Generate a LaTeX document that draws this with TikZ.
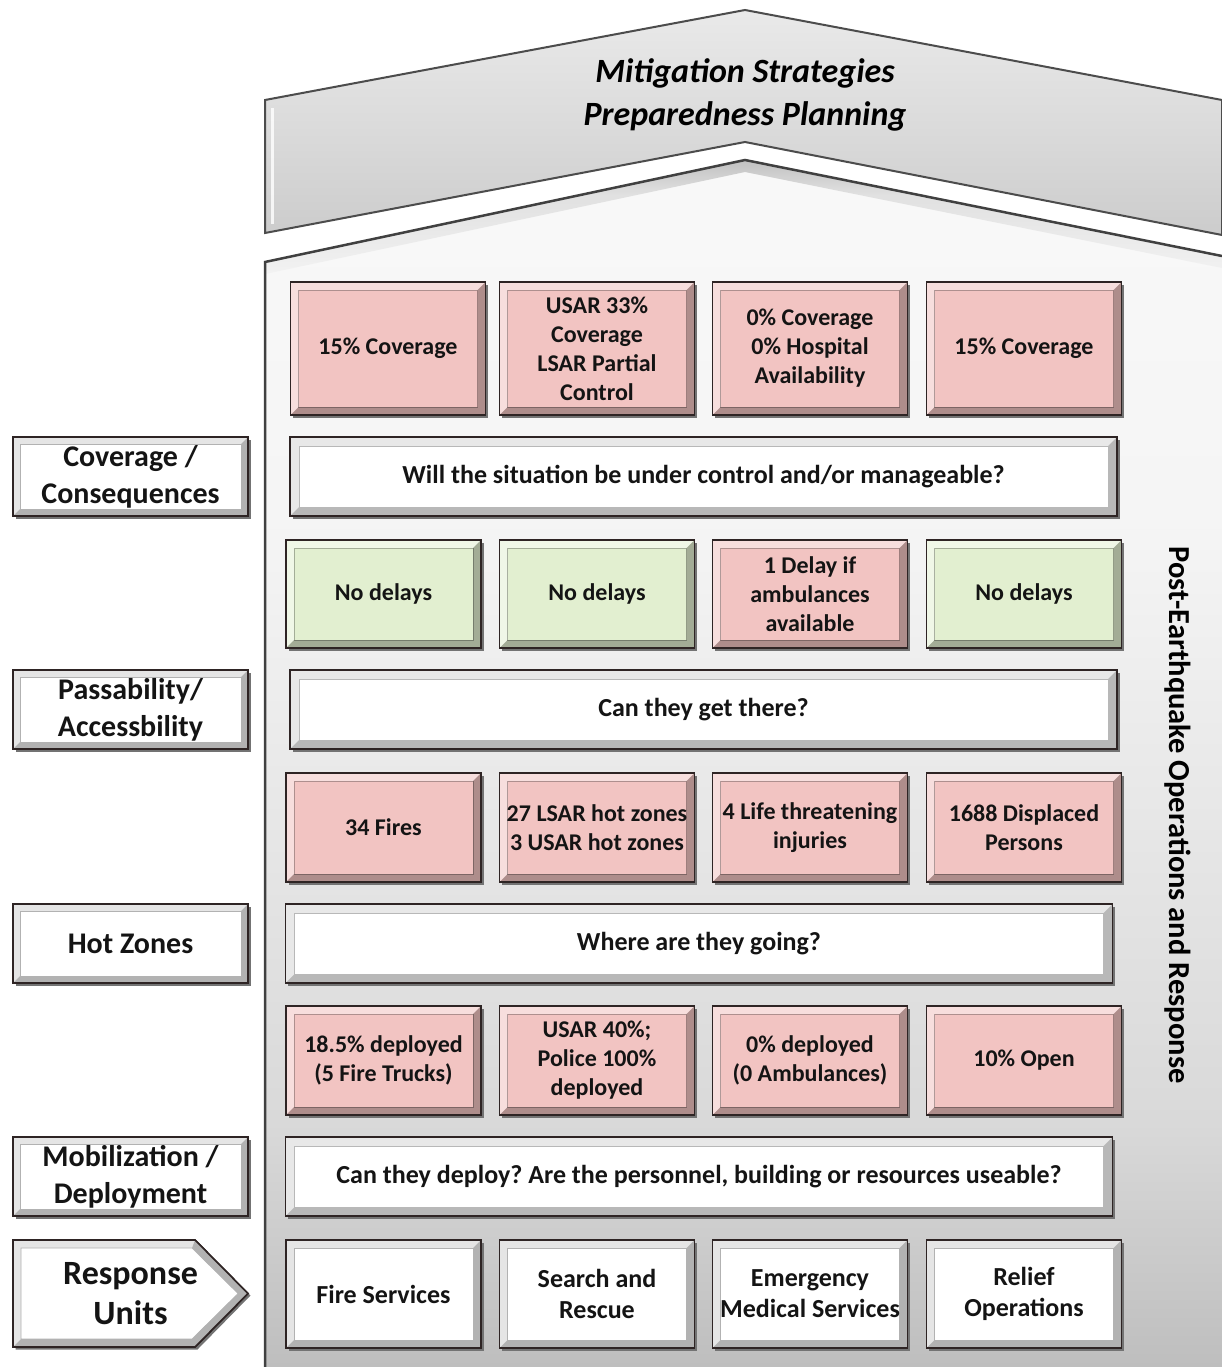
\documentclass[tikz,border=0pt]{standalone}
\usepackage{fontspec}
\setmainfont{Carlito}
\usetikzlibrary{shadows}
\definecolor{pinkf}{HTML}{F2C4C2}
\definecolor{greenf}{HTML}{E2EFD0}
\definecolor{edgec}{HTML}{2E2424}
\pgfdeclareverticalshading{housesh}{100bp}{color(0bp)=(black!45); color(15bp)=(black!36); color(35bp)=(black!15); color(60bp)=(black!4); color(100bp)=(white)}
\pgfdeclareverticalshading{roofsh}{100bp}{color(0bp)=(black!26); color(50bp)=(black!14); color(100bp)=(black!3)}
\pgfdeclareverticalshading{topshadow}{100bp}{color(0bp)=(white); color(60bp)=(black!12); color(100bp)=(black!45)}
\newcommand\mybevel[3]{%
  \path (path picture bounding box.north west) coordinate (pNW)
        (path picture bounding box.south east) coordinate (pSE);
  \fill[#2] (pNW) -- (pNW -| pSE) -- ([shift={(-#1,-#1)}]pNW -| pSE) -- ([shift={(#1,-#1)}]pNW)
     -- ([shift={(#1,#1)}]pNW |- pSE) -- (pNW |- pSE) -- cycle;
  \fill[#3] (pSE) -- (pNW -| pSE) -- ([shift={(-#1,-#1)}]pNW -| pSE) -- ([shift={(-#1,#1)}]pSE)
     -- ([shift={(#1,#1)}]pNW |- pSE) -- (pNW |- pSE) -- cycle;
  \draw[#3, line width=0.6pt] ([shift={(#1,-#1)}]pNW) rectangle ([shift={(-#1,#1)}]pSE);}
\tikzset{
  basebox/.style={rectangle, inner sep=0pt, align=center, text=black!92,
    draw=edgec, line width=1.6pt,
    general shadow={shadow xshift=2.5pt, shadow yshift=-2.5pt, fill=black!55},
    font=\fontsize{24}{29}\selectfont\bfseries},
  pinkbox/.style={basebox, fill=pinkf, minimum width=195pt, minimum height=#1,
    path picture={\mybevel{8pt}{white,opacity=.45}{black,opacity=.28}}},
  greenbox/.style={basebox, fill=greenf, minimum width=195pt, minimum height=108pt,
    path picture={\mybevel{8pt}{white,opacity=.5}{black,opacity=.28}}},
  unitbox/.style={basebox, fill=white, minimum width=195pt, minimum height=108pt,
    font=\fontsize{26}{31}\selectfont\bfseries,
    path picture={\mybevel{8pt}{black!10}{black!30}}},
  qbox/.style={basebox, fill=white, minimum width=827pt, minimum height=79pt,
    font=\fontsize{26}{30}\selectfont\bfseries,
    path picture={\mybevel{9pt}{black!9}{black!28}}},
  lbox/.style={basebox, fill=white, minimum width=235pt, minimum height=79pt,
    font=\fontsize{30}{37}\selectfont\bfseries,
    path picture={\mybevel{7pt}{black!10}{black!30}}},
}
\begin{document}
\frenchspacing
\begin{tikzpicture}[x=1pt,y=-1pt]
\useasboundingbox (0,0) rectangle (1222,1367);
% house body
\shade[shading=housesh] (265,262) -- (745,160) -- (1222,256) -- (1222,1367) -- (265,1367) -- cycle;
\shade[shading=topshadow] (265,262) -- (745,160) -- (1222,256) -- (1222,268) -- (745,172) -- (265,274) -- cycle;
\draw[black!75, line width=2.5pt] (265,1367) -- (265,262) -- (745,160) -- (1222,256);
% roof
\shade[shading=roofsh, draw=black!70, line width=2pt]
  (265,100) -- (745,10) -- (1222,100) -- (1222,235) -- (745,142) -- (265,233) -- cycle;
\draw[white, opacity=.8, line width=3pt] (272,108) -- (272,224);
\node[font=\fontsize{34}{43}\selectfont\bfseries\itshape, align=center] (title) at (745,95)
  {Mitigation Strategies\\Preparedness Planning};
% vertical text
\node[rotate=-90, font=\fontsize{30.5}{32}\selectfont\bfseries] (side) at (1178,815)
  {Post-Earthquake Operations and Response};
% row 1
\node[pinkbox=133pt] (a1) at (388,348.5) {15\% Coverage};
\node[pinkbox=133pt] (a2) at (597,348.5) {USAR 33\%\\Coverage\\LSAR Partial\\Control};
\node[pinkbox=133pt] (a3) at (810,348.5) {0\% Coverage\\0\% Hospital\\Availability};
\node[pinkbox=133pt] (a4) at (1024,348.5) {15\% Coverage};
\node[qbox] (q1) at (703.5,476.5) {Will the situation be under control and/or manageable?};
% row 2
\node[greenbox] (b1) at (383.5,594) {No delays};
\node[greenbox] (b2) at (597,594) {No delays};
\node[pinkbox=108pt] (b3) at (810,594) {1 Delay if\\ambulances\\available};
\node[greenbox] (b4) at (1024,594) {No delays};
\node[qbox] (q2) at (703.5,709.5) {Can they get there?};
% row 3
\node[pinkbox=109pt] (c1) at (383.5,827.5) {34 Fires};
\node[pinkbox=109pt] (c2) at (597,827.5) {27 LSAR hot zones\\3 USAR hot zones};
\node[pinkbox=109pt] (c3) at (810,827.5) {4 Life threatening\\injuries};
\node[pinkbox=109pt] (c4) at (1024,827.5) {1688 Displaced\\Persons};
\node[qbox] (q3) at (699,943.5) {Where are they going?};
% row 4
\node[pinkbox=109pt] (d1) at (383.5,1060.5) {18.5\% deployed\\(5 Fire Trucks)};
\node[pinkbox=109pt] (d2) at (597,1060.5) {USAR 40\%;\\Police 100\%\\deployed};
\node[pinkbox=109pt] (d3) at (810,1060.5) {0\% deployed\\(0 Ambulances)};
\node[pinkbox=109pt] (d4) at (1024,1060.5) {10\% Open};
\node[qbox] (q4) at (699,1176.5) {Can they deploy? Are the personnel, building or resources useable?};
% row 5
\node[unitbox] (e1) at (383.5,1294) {Fire Services};
\node[unitbox] (e2) at (597,1294) {Search and\\Rescue};
\node[unitbox] (e3) at (810,1294) {Emergency\\Medical Services};
\node[unitbox] (e4) at (1024,1294) {Relief\\Operations};
% left labels
\node[lbox] (l1) at (130.5,476.5) {Coverage /\\Consequences};
\node[lbox] (l2) at (130.5,709.5) {Passability/\\Accessbility};
\node[lbox] (l3) at (130.5,943.5) {Hot Zones};
\node[lbox] (l4) at (130.5,1176.5) {Mobilization /\\Deployment};
% response units arrow
\fill[black!55] (15.5,1242.5) -- (197.5,1242.5) -- (250.5,1295.5) -- (197.5,1349.5) -- (15.5,1349.5) -- cycle;
\fill[white, draw=edgec, line width=1.6pt] (13,1240) -- (195,1240) -- (248,1293.5) -- (195,1347) -- (13,1347) -- cycle;
\fill[black!10] (13,1240) -- (195,1240) -- (192,1248) -- (21,1248) -- (21,1339) -- (13,1347) -- cycle;
\fill[black!30] (195,1240) -- (248,1293.5) -- (195,1347) -- (13,1347) -- (21,1339) -- (192,1339) -- (238,1293.5) -- (192,1248) -- cycle;
\draw[black!30, line width=0.6pt] (21,1248) -- (192,1248) -- (238,1293.5) -- (192,1339) -- (21,1339) -- cycle;
\draw[edgec, line width=1.6pt] (13,1240) -- (195,1240) -- (248,1293.5) -- (195,1347) -- (13,1347) -- cycle;
\node[align=center, font=\fontsize{34}{40}\selectfont\bfseries, text=black!92] (ru) at (130.5,1293.5) {Response\\Units};
\end{tikzpicture}
\end{document}
